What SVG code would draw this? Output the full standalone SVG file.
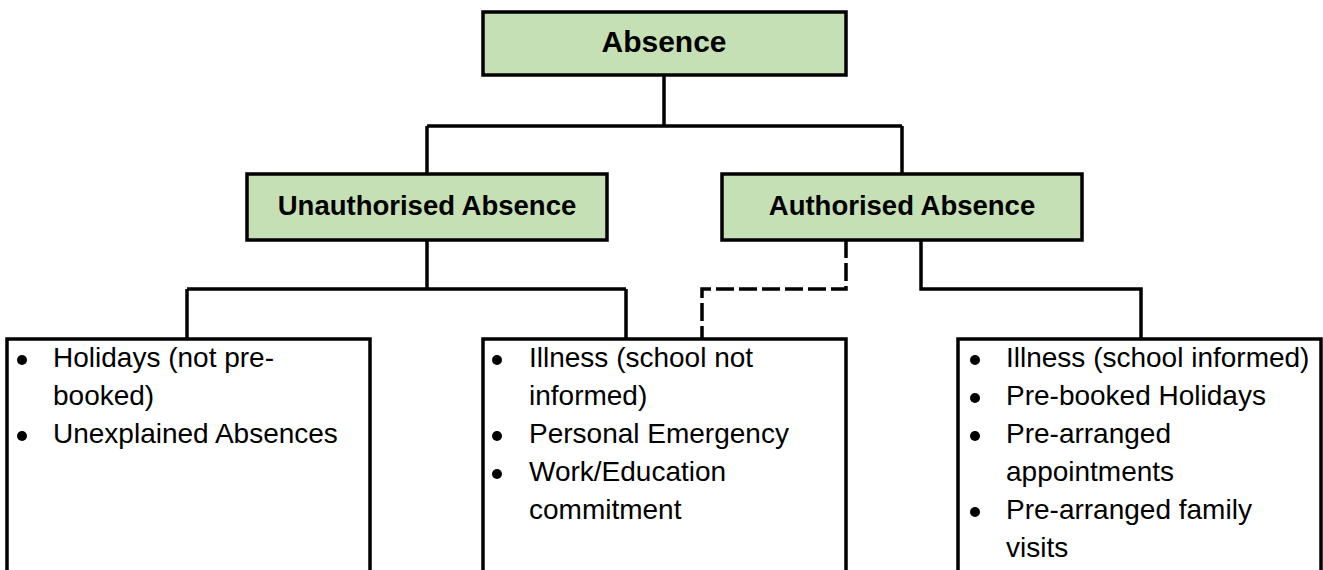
<svg xmlns="http://www.w3.org/2000/svg" width="1323" height="570" viewBox="0 0 1323 570">
<style>
.hdr{fill:#c5e0b4;stroke:#000;stroke-width:3.5}
.lst{fill:#fff;stroke:#000;stroke-width:3.5}
.ht{font-family:"Liberation Sans",Arial,sans-serif;font-weight:bold;fill:#000;text-anchor:middle}
.it{font-family:"Liberation Sans",Arial,sans-serif;font-size:28px;fill:#000}
.ln{fill:none;stroke:#000;stroke-width:3.5}
.dl{fill:none;stroke:#000;stroke-width:3.5;stroke-dasharray:18 5}
</style>
<rect width="1323" height="570" fill="#fff"/>
<g id="connectors">
<path class="ln" d="M664 75 V126 M427 126 H902 M427 126 V174 M902 126 V174"/>
<path class="ln" d="M427 240 V289 M187 289 H626 M187 289 V339 M626 289 V339"/>
<path class="ln" d="M921 240 V289 H1141 V339"/>
<path class="dl" d="M846 240 V289 H702 V339"/>
</g>
<g id="absence">
<rect class="hdr" x="483" y="12" width="363" height="63"/>
<text class="ht" x="664" y="52" font-size="30">Absence</text>
</g>
<g id="unauthorised">
<rect class="hdr" x="247" y="174" width="360" height="66"/>
<text class="ht" x="427" y="215" font-size="27.5">Unauthorised Absence</text>
</g>
<g id="authorised">
<rect class="hdr" x="722" y="174" width="360" height="66"/>
<text class="ht" x="902" y="215" font-size="27.5">Authorised Absence</text>
</g>
<g id="list-unauthorised">
<rect class="lst" x="7" y="339" width="363" height="260"/>
<circle cx="22" cy="360" r="5"/>
<circle cx="22" cy="436" r="5"/>
<text class="it" x="53" y="367">Holidays (not pre-</text>
<text class="it" x="53" y="405">booked)</text>
<text class="it" x="53" y="443">Unexplained Absences</text>
</g>
<g id="list-mixed">
<rect class="lst" x="483" y="339" width="363" height="260"/>
<circle cx="497" cy="360" r="5"/>
<circle cx="497" cy="436" r="5"/>
<circle cx="497" cy="474" r="5"/>
<text class="it" x="529" y="367">Illness (school not</text>
<text class="it" x="529" y="405">informed)</text>
<text class="it" x="529" y="443">Personal Emergency</text>
<text class="it" x="529" y="481">Work/Education</text>
<text class="it" x="529" y="519">commitment</text>
</g>
<g id="list-authorised">
<rect class="lst" x="958" y="339" width="363" height="260"/>
<circle cx="975" cy="360" r="5"/>
<circle cx="975" cy="398" r="5"/>
<circle cx="975" cy="436" r="5"/>
<circle cx="975" cy="512" r="5"/>
<text class="it" x="1006" y="367">Illness (school informed)</text>
<text class="it" x="1006" y="405">Pre-booked Holidays</text>
<text class="it" x="1006" y="443">Pre-arranged</text>
<text class="it" x="1006" y="481">appointments</text>
<text class="it" x="1006" y="519">Pre-arranged family</text>
<text class="it" x="1006" y="557">visits</text>
</g>
</svg>
